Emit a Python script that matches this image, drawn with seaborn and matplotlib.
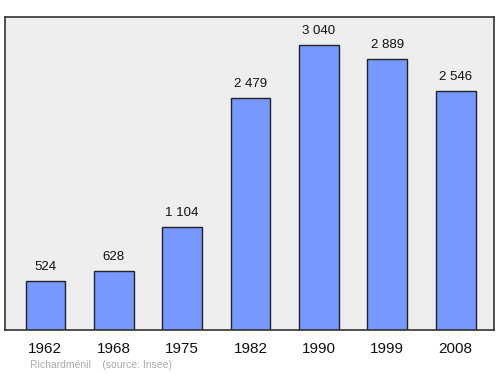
import matplotlib
matplotlib.use("Agg")
import matplotlib.pyplot as plt
import seaborn as sns
import pandas as pd

years = ["1962", "1968", "1975", "1982", "1990", "1999", "2008"]
population = [524, 628, 1104, 2479, 3040, 2889, 2546]
value_labels = ["524", "628", "1 104", "2 479", "3 040", "2 889", "2 546"]

sns.set_theme(style="white")
plt.rcParams['font.family'] = ['Liberation Sans', 'DejaVu Sans']

df = pd.DataFrame({"year": years, "pop": population})

fig = plt.figure(figsize=(5, 3.74), dpi=100)
ax = fig.add_axes([0.01, 0.1176, 0.978, 0.837])
ax.set_facecolor("#eeeeee")
sns.barplot(data=df, x="year", y="pop", color="#7799ff", saturation=1,
            width=0.58, edgecolor="#222222", linewidth=1, ax=ax)
ax.set_xlim(-0.59, 6.56)
ax.set_ylim(0, 3339)
for i, (v, lab) in enumerate(zip(population, value_labels)):
    ax.text(i, v + 85, lab, ha="center", va="bottom", fontsize=9.5, color="#111111")
ax.set_yticks([])
ax.set_xlabel("")
ax.set_ylabel("")
ax.tick_params(axis="x", length=0, labelsize=11, pad=8.5, colors="#111111")
for s in ax.spines.values():
    s.set_visible(True)
    s.set_color("#333333")
    s.set_linewidth(1.2)
fig.text(0.06, 0.017, "Richardménil    (source: Insee)", fontsize=7.5, color="#aaaaaa")
fig.savefig("out.png", dpi=100)
